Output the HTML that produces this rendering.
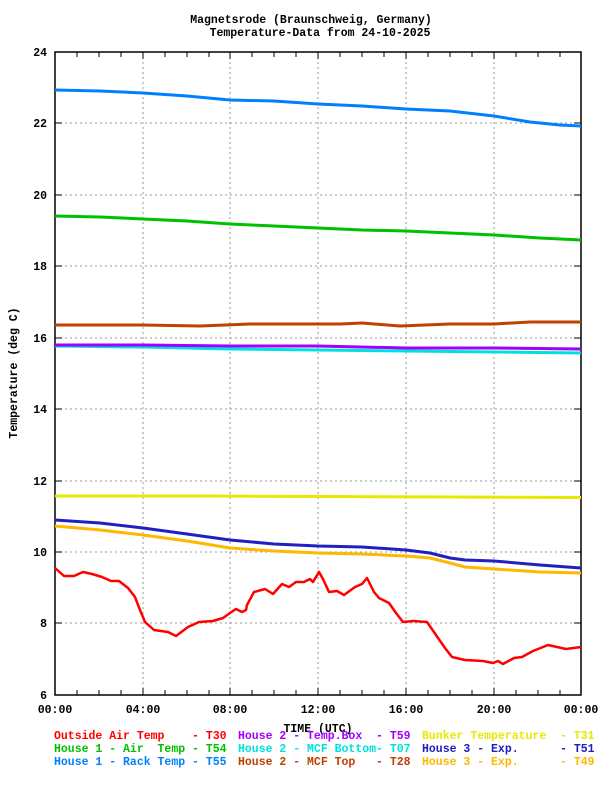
<!DOCTYPE html>
<html><head><meta charset="utf-8"><style>
body{margin:0;background:#fff}
svg text{font-family:"Liberation Mono","DejaVu Sans Mono",monospace;font-weight:bold;font-size:11.5px}
</style></head><body>
<svg width="600" height="800" xmlns="http://www.w3.org/2000/svg">
<rect width="600" height="800" fill="#fff"/>
<text x="311" y="23" text-anchor="middle">Magnetsrode (Braunschweig, Germany)</text>
<text x="320" y="36" text-anchor="middle">Temperature-Data from 24-10-2025</text>
<g stroke="#999" stroke-dasharray="2,3" stroke-width="1">
<line x1="55" y1="123" x2="581" y2="123"/><line x1="55" y1="195" x2="581" y2="195"/>
<line x1="55" y1="266" x2="581" y2="266"/><line x1="55" y1="338" x2="581" y2="338"/>
<line x1="55" y1="409" x2="581" y2="409"/><line x1="55" y1="481" x2="581" y2="481"/>
<line x1="55" y1="552" x2="581" y2="552"/><line x1="55" y1="623" x2="581" y2="623"/>
<line x1="143" y1="52" x2="143" y2="695"/><line x1="230" y1="52" x2="230" y2="695"/>
<line x1="318" y1="52" x2="318" y2="695"/><line x1="406" y1="52" x2="406" y2="695"/>
<line x1="494" y1="52" x2="494" y2="695"/>
</g>
<g stroke="#000" stroke-width="1">
<path d="M77 52v5M99 52v5M121 52v5M165 52v5M187 52v5M209 52v5M252 52v5M274 52v5M296 52v5M340 52v5M362 52v5M384 52v5M428 52v5M450 52v5M472 52v5M516 52v5M538 52v5M560 52v5M143 52v7M230 52v7M318 52v7M406 52v7M494 52v7"/>
<path d="M77 695v-5M99 695v-5M121 695v-5M165 695v-5M187 695v-5M209 695v-5M252 695v-5M274 695v-5M296 695v-5M340 695v-5M362 695v-5M384 695v-5M428 695v-5M450 695v-5M472 695v-5M516 695v-5M538 695v-5M560 695v-5M143 695v-7M230 695v-7M318 695v-7M406 695v-7M494 695v-7"/>
<path d="M55 123h7M55 195h7M55 266h7M55 338h7M55 409h7M55 481h7M55 552h7M55 623h7M581 123h-7M581 195h-7M581 266h-7M581 338h-7M581 409h-7M581 481h-7M581 552h-7M581 623h-7"/>
</g>
<rect x="55" y="52" width="526" height="643" fill="none" stroke="#000" stroke-width="1.5"/>
<g text-anchor="end">
<text x="47" y="56">24</text><text x="47" y="127">22</text><text x="47" y="199">20</text>
<text x="47" y="270">18</text><text x="47" y="342">16</text><text x="47" y="413">14</text>
<text x="47" y="485">12</text><text x="47" y="556">10</text><text x="47" y="627">8</text><text x="47" y="699">6</text>
</g>
<g text-anchor="middle">
<text x="55" y="713">00:00</text><text x="143" y="713">04:00</text><text x="230" y="713">08:00</text>
<text x="318" y="713">12:00</text><text x="406" y="713">16:00</text><text x="494" y="713">20:00</text><text x="581" y="713">00:00</text>
<text x="318" y="732">TIME (UTC)</text>
</g>
<text transform="translate(17,373) rotate(-90)" text-anchor="middle">Temperature (deg C)</text>
<g fill="none" stroke-width="3" stroke-linejoin="round">
<polyline stroke="#0080ff" points="55,90 100,91 143,93 187,96 230,100 274,101 318,104 362,106 406,109 450,111 494,116 530,122 560,125 581,126"/>
<polyline stroke="#00c000" points="55,216 100,217 143,219 187,221 230,224 274,226 318,228 362,230 406,231 450,233 494,235 540,238 581,240"/>
<polyline stroke="#c04000" points="55,325 143,325 200,326 250,324 300,324 340,324 362,323 400,326 450,324 494,324 530,322 581,322"/>
<polyline stroke="#00e0e0" points="55,346 143,347 230,349 318,350 406,351 494,352 581,353"/>
<polyline stroke="#a000ff" points="55,345 143,345 230,346 318,346 406,348 494,348 581,349"/>
<polyline stroke="#e8e800" points="55,496 200,496 318,496.5 450,497 581,497.5"/>
<polyline stroke="#ffb800" points="55,526 100,530 143,535 187,541 230,548 274,551 318,553 362,554 406,556 430,558 450,563 465,567 494,569 540,572 581,573"/>
<polyline stroke="#2020c0" points="55,520 100,523 143,528 187,534 230,540 274,544 318,546 362,547 406,550 430,553 450,558 465,560 494,561 540,565 581,568"/>
<polyline stroke="#ff0000" stroke-width="2.5" points="55,568 64,576 74,576 83,572 92,574 102,577 111,581 119,581 128,588 135,597 140,610 145,622 154,630 168,632 176,636 188,627 199,622 213,621 223,618 230,613 236,609 242,612 246,610 247,605 254,592 265,589 273,594 282,584 289,587 296,582 304,582 310,579 313,582 319,572 323,579 329,592 337,591 344,595 355,587 362,584 367,578 374,592 379,598 389,603 396,613 403,622 413,621 427,622 436,635 445,648 452,657 465,660 483,661 493,663 498,661 503,664 514,658 522,657 533,651 548,645 566,649 581,647"/>
</g>
<text x="54" y="739" fill="#ff0000" xml:space="preserve">Outside Air Temp    - T30</text>
<text x="238" y="739" fill="#a000ff" xml:space="preserve">House 2 - Temp.Box  - T59</text>
<text x="422" y="739" fill="#e8e800" xml:space="preserve">Bunker Temperature  - T31</text>
<text x="54" y="752" fill="#00c000" xml:space="preserve">House 1 - Air  Temp - T54</text>
<text x="238" y="752" fill="#00e0e0" xml:space="preserve">House 2 - MCF Bottom- T07</text>
<text x="422" y="752" fill="#2020c0" xml:space="preserve">House 3 - Exp.      - T51</text>
<text x="54" y="765" fill="#0080ff" xml:space="preserve">House 1 - Rack Temp - T55</text>
<text x="238" y="765" fill="#c04000" xml:space="preserve">House 2 - MCF Top   - T28</text>
<text x="422" y="765" fill="#ffb800" xml:space="preserve">House 3 - Exp.      - T49</text>
</svg>
</body></html>
